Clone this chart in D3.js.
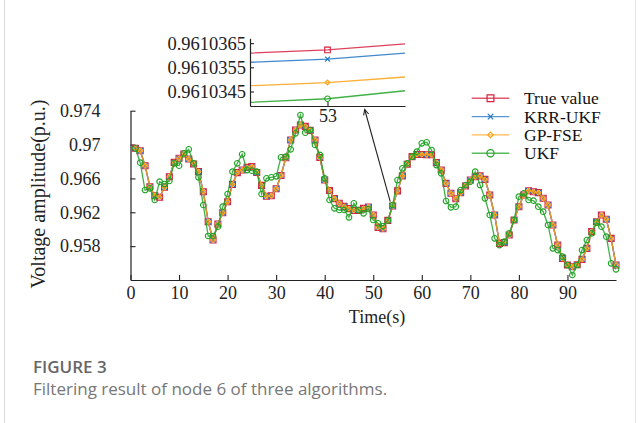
<!DOCTYPE html>
<html><head><meta charset="utf-8">
<script src="https://cdn.jsdelivr.net/npm/d3@7"></script>
<style>body{margin:0;background:#fff}svg{display:block}</style>
</head><body>
<script>
// ---------- data ----------
const times = d3.range(1, 101);
const xTickValues = [0,10,20,30,40,50,60,70,80,90];
const yTickValues = [0.958,0.962,0.966,0.970,0.974];
const yTickLabels = ["0.958","0.962","0.966","0.97","0.974"];

const trueValue = [0.96956,0.96927,0.96750,0.96502,0.96396,0.96377,0.96495,0.96620,0.96790,0.96838,
0.96888,0.96829,0.96770,0.96680,0.96443,0.96089,0.95873,0.96062,0.96195,0.96325,
0.96530,0.96668,0.96699,0.96730,0.96740,0.96670,0.96518,0.96390,0.96395,0.96478,
0.96635,0.96845,0.97054,0.97172,0.97231,0.97215,0.97168,0.97054,0.96847,0.96581,
0.96457,0.96361,0.96306,0.96270,0.96243,0.96221,0.96223,0.96246,0.96262,0.96168,
0.96020,0.96005,0.96104,0.96274,0.96453,0.96630,0.96768,0.96857,0.96882,0.96882,
0.96880,0.96880,0.96788,0.96699,0.96542,0.96424,0.96360,0.96430,0.96510,0.96581,
0.96620,0.96630,0.96589,0.96404,0.96168,0.95833,0.95841,0.95932,0.96109,0.96266,
0.96404,0.96455,0.96443,0.96432,0.96365,0.96286,0.96050,0.95813,0.95656,0.95577,
0.95557,0.95581,0.95644,0.95774,0.95971,0.96089,0.96168,0.96117,0.95892,0.95577];

const krrUkf = [0.96956,0.96927,0.96750,0.96502,0.96396,0.96377,0.96495,0.96620,0.96790,0.96838,
0.96888,0.96829,0.96770,0.96680,0.96443,0.96089,0.95873,0.96062,0.96195,0.96325,
0.96530,0.96668,0.96699,0.96730,0.96740,0.96670,0.96518,0.96390,0.96395,0.96478,
0.96635,0.96845,0.97054,0.97172,0.97231,0.97215,0.97168,0.97054,0.96847,0.96581,
0.96457,0.96361,0.96306,0.96270,0.96243,0.96221,0.96223,0.96246,0.96262,0.96168,
0.96020,0.96005,0.96104,0.96274,0.96453,0.96630,0.96768,0.96857,0.96882,0.96882,
0.96880,0.96880,0.96788,0.96699,0.96542,0.96424,0.96360,0.96430,0.96510,0.96581,
0.96620,0.96630,0.96589,0.96404,0.96168,0.95833,0.95841,0.95932,0.96109,0.96266,
0.96404,0.96455,0.96443,0.96432,0.96365,0.96286,0.96050,0.95813,0.95656,0.95577,
0.95557,0.95581,0.95644,0.95774,0.95971,0.96089,0.96168,0.96117,0.95892,0.95577];

const gpFse = [0.96956,0.96927,0.96750,0.96502,0.96396,0.96377,0.96495,0.96620,0.96790,0.96838,
0.96888,0.96829,0.96770,0.96680,0.96443,0.96089,0.95873,0.96062,0.96195,0.96325,
0.96530,0.96668,0.96699,0.96730,0.96740,0.96670,0.96518,0.96390,0.96395,0.96478,
0.96635,0.96845,0.97054,0.97172,0.97231,0.97215,0.97168,0.97054,0.96847,0.96581,
0.96457,0.96361,0.96306,0.96270,0.96243,0.96221,0.96223,0.96246,0.96262,0.96168,
0.96020,0.96005,0.96104,0.96274,0.96453,0.96630,0.96768,0.96857,0.96882,0.96882,
0.96880,0.96880,0.96788,0.96699,0.96542,0.96424,0.96360,0.96430,0.96510,0.96581,
0.96620,0.96630,0.96589,0.96404,0.96168,0.95833,0.95841,0.95932,0.96109,0.96266,
0.96404,0.96455,0.96443,0.96432,0.96365,0.96286,0.96050,0.95813,0.95656,0.95577,
0.95557,0.95581,0.95644,0.95774,0.95971,0.96089,0.96168,0.96117,0.95892,0.95577];

const ukf = [0.96956,0.96786,0.96463,0.96483,0.96345,0.96561,0.96534,0.96570,0.96778,0.96750,
0.96896,0.96944,0.96778,0.96613,0.96286,0.95920,0.95920,0.96030,0.96266,0.96416,
0.96680,0.96778,0.96885,0.96699,0.96691,0.96680,0.96416,0.96601,0.96613,0.96625,
0.96849,0.96857,0.96944,0.97133,0.97349,0.97140,0.97172,0.96995,0.96877,0.96601,
0.96345,0.96247,0.96227,0.96227,0.96140,0.96306,0.96227,0.96188,0.96239,0.96109,
0.96070,0.96038,0.96103,0.96286,0.96581,0.96719,0.96778,0.96857,0.96916,0.97015,
0.97027,0.96936,0.96758,0.96660,0.96333,0.96259,0.96266,0.96463,0.96522,0.96561,
0.96680,0.96522,0.96365,0.96168,0.95892,0.95813,0.95853,0.95951,0.96109,0.96384,
0.96424,0.96345,0.96337,0.96266,0.96207,0.96050,0.95774,0.95754,0.95676,0.95577,
0.95459,0.95577,0.95754,0.95872,0.95951,0.96077,0.96030,0.95912,0.95597,0.95526];

// inset (zoom around t = 53)
const insetTimes = [52.5, 53, 53.5];
const insetTrue = [0.96103609, 0.96103622, 0.96103647];
const insetKrr  = [0.96103571, 0.96103584, 0.96103609];
const insetGp   = [0.96103474, 0.96103487, 0.96103510];
const insetUkf  = [0.96103405, 0.96103420, 0.96103453];
const insetYTicks = [0.9610345, 0.9610355, 0.9610365];
const insetYLabels = ["0.9610345","0.9610355","0.9610365"];
const insetXTicks = [53];

const seriesNames = ["True value","KRR-UKF","GP-FSE","UKF"];
const seriesColors = ["#d7203f","#1f74c6","#ffa114","#1fa324"];
const seriesMarkers = ["square","x","diamond","circle"];
const mainData = [trueValue, krrUkf, gpFse, ukf];
const insetData = [insetTrue, insetKrr, insetGp, insetUkf];

// ---------- drawing ----------
const W = 639, H = 423;
const serif = "'Liberation Serif','Times New Roman',serif";
const svg = d3.select("body").append("svg").attr("width", W).attr("height", H);
svg.append("rect").attr("width", W).attr("height", H).attr("fill", "#fff");
svg.append("line").attr("x1", 4.5).attr("x2", 4.5).attr("y1", 0).attr("y2", H).attr("stroke", "#d9d9d9");
svg.append("line").attr("x1", 635.5).attr("x2", 635.5).attr("y1", 0).attr("y2", H).attr("stroke", "#e6e6e6");

const x = d3.scaleLinear().domain([0, 100]).range([130.5, 616]);
const y = d3.scaleLinear().domain([0.954, 0.974]).range([280, 110.7]);

function markerPath(type, h) {
  if (type === "square") return `M${-h},${-h}h${2*h}v${2*h}h${-2*h}Z`;
  if (type === "x") return `M${-h},${-h}L${h},${h}M${-h},${h}L${h},${-h}`;
  if (type === "diamond") return `M0,${-h}L${h},0L0,${h}L${-h},0Z`;
  return d3.arc()({innerRadius:0, outerRadius:h, startAngle:0, endAngle:2*Math.PI});
}
const mainSizes = {square:3, x:2.6, diamond:2.3, circle:2.8};

function drawAxisStyle(g) {
  g.selectAll("path.domain").attr("stroke", "#222").attr("stroke-width", 1.2);
  g.selectAll(".tick line").attr("stroke", "#222").attr("stroke-width", 1.1);
  g.selectAll("text").attr("fill", "#222").style("font-family", serif).style("font-size", "18px");
}

// main axes
const gx = svg.append("g").attr("transform", "translate(0,280)")
  .call(d3.axisBottom(x).tickValues(xTickValues).tickSizeInner(-5).tickSizeOuter(0).tickPadding(6).tickFormat(d3.format("d")));
drawAxisStyle(gx);
const gy = svg.append("g").attr("transform", "translate(130.5,0)")
  .call(d3.axisLeft(y).tickValues(yTickValues).tickSizeInner(-5).tickSizeOuter(0).tickPadding(30)
    .tickFormat((d, i) => yTickLabels[i]));
drawAxisStyle(gy);

// axis titles
svg.append("text").attr("transform", "translate(45,194) rotate(-90)").attr("text-anchor", "middle")
  .style("font-family", serif).style("font-size", "20px").attr("fill", "#222").text("Voltage amplitude(p.u.)");
svg.append("text").attr("x", 377).attr("y", 323).attr("text-anchor", "middle")
  .style("font-family", serif).style("font-size", "18px").attr("fill", "#222").text("Time(s)");

// main series
const line = d3.line().x((d, i) => x(times[i])).y(d => y(d));
mainData.forEach((vals, k) => {
  const g = svg.append("g");
  g.append("path").attr("d", line(vals)).attr("fill", "none").attr("stroke", seriesColors[k])
    .attr("stroke-width", 1.3).attr("stroke-opacity", 0.85);
  g.selectAll("path.m").data(vals).join("path").attr("class", "m")
    .attr("transform", (d, i) => `translate(${x(times[i])},${y(d)})`)
    .attr("d", markerPath(seriesMarkers[k], mainSizes[seriesMarkers[k]]))
    .attr("fill", "none").attr("stroke", seriesColors[k]).attr("stroke-width", 1.1);
});

// legend
const legY0 = 98.3, legDy = 18.3;
seriesNames.forEach((name, k) => {
  const yy = legY0 + k * legDy;
  svg.append("line").attr("x1", 471.7).attr("x2", 509.3).attr("y1", yy).attr("y2", yy)
    .attr("stroke", seriesColors[k]).attr("stroke-width", 1.4).attr("stroke-opacity", 0.75);
  svg.append("path").attr("transform", `translate(490.5,${yy})`)
    .attr("d", markerPath(seriesMarkers[k], seriesMarkers[k] === "circle" ? 3.6 : (seriesMarkers[k] === "square" ? 3.4 : 2.7)))
    .attr("fill", "none").attr("stroke", seriesColors[k]).attr("stroke-width", 1.2);
  svg.append("text").attr("x", 524).attr("y", yy).attr("dy", "0.35em")
    .style("font-family", serif).style("font-size", "17.5px").attr("fill", "#111").text(name);
});

// inset
const ix = d3.scaleLinear().domain([52.5, 53.5]).range([250, 405]);
const iy = d3.scaleLinear().domain([0.9610339, 0.9610367]).range([106, 38.3]);
const ginset = svg.append("g");
ginset.append("rect").attr("x", 250).attr("y", 38.3).attr("width", 155).attr("height", 67.7).attr("fill", "#fff");
const iline = d3.line().x((d, i) => ix(insetTimes[i])).y(d => iy(d));
insetData.forEach((vals, k) => {
  ginset.append("path").attr("d", iline(vals)).attr("fill", "none").attr("stroke", seriesColors[k])
    .attr("stroke-width", 1.3).attr("stroke-opacity", 0.85);
  ginset.append("path").attr("transform", `translate(${ix(insetTimes[1])},${iy(vals[1])})`)
    .attr("d", markerPath(seriesMarkers[k], seriesMarkers[k] === "circle" ? 2.8 : (seriesMarkers[k] === "square" ? 2.8 : 2.4)))
    .attr("fill", "none").attr("stroke", seriesColors[k]).attr("stroke-width", 1.1);
});
const igx = ginset.append("g").attr("transform", "translate(0,106)")
  .call(d3.axisBottom(ix).tickValues(insetXTicks).tickSizeInner(-4).tickSizeOuter(0).tickPadding(3).tickFormat(d3.format("d")));
drawAxisStyle(igx);
const igy = ginset.append("g").attr("transform", "translate(250,0)")
  .call(d3.axisLeft(iy).tickValues(insetYTicks).tickSizeInner(-4).tickSizeOuter(0).tickPadding(4)
    .tickFormat((d, i) => insetYLabels[i]));
drawAxisStyle(igy);
igy.selectAll("text").style("font-size", "18.5px");

// arrow from main curve to inset
const ax1 = x(53.5), ay1 = y(0.96325);
const ax2 = ix(53.24), ay2 = 109.5;
svg.append("line").attr("x1", ax1).attr("y1", ay1).attr("x2", ax2).attr("y2", ay2)
  .attr("stroke", "#222").attr("stroke-width", 1.1);
const ang = Math.atan2(ay1 - ay2, ax1 - ax2);
const hl = 6, ha = 0.45;
svg.append("path").attr("d",
  `M${ax2 + hl*Math.cos(ang-ha)},${ay2 + hl*Math.sin(ang-ha)}L${ax2},${ay2}L${ax2 + hl*Math.cos(ang+ha)},${ay2 + hl*Math.sin(ang+ha)}`)
  .attr("fill", "none").attr("stroke", "#222").attr("stroke-width", 1.1);

// caption
svg.append("text").attr("x", 33).attr("y", 373).style("font-family", "'Open Sans',sans-serif")
  .style("font-size", "17px").style("font-weight", 600).attr("fill", "#666").text("FIGURE 3");
svg.append("text").attr("x", 33).attr("y", 395).style("font-family", "'Open Sans',sans-serif")
  .style("font-size", "17px").attr("fill", "#777").text("Filtering result of node 6 of three algorithms.");
</script>
</body></html>
